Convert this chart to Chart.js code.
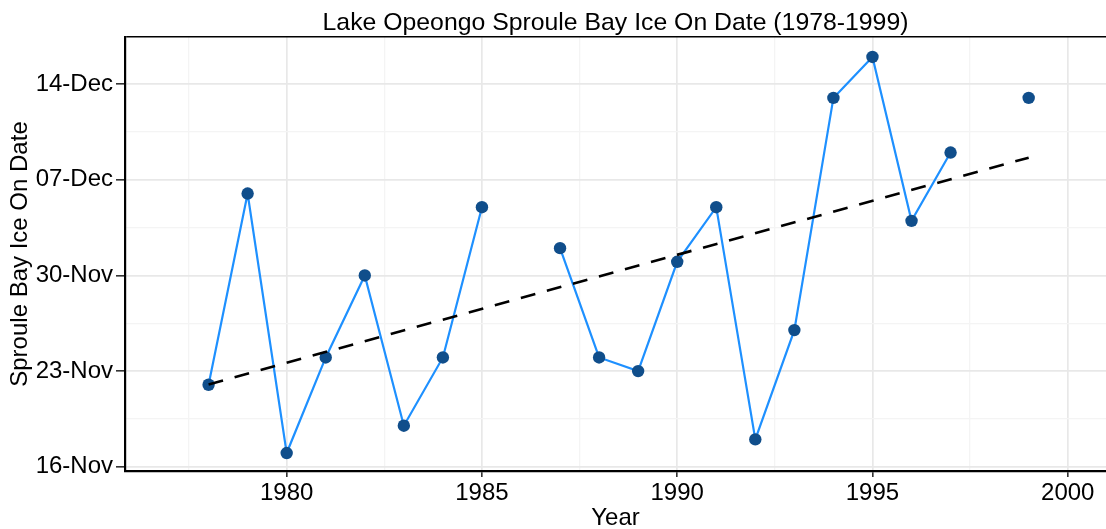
<!DOCTYPE html>
<html>
<head>
<meta charset="utf-8">
<script src="https://cdn.jsdelivr.net/npm/chart.js@4.4.1/dist/chart.umd.min.js"></script>
<style>
  html, body { margin: 0; padding: 0; background: #ffffff; overflow: hidden; }
  #wrap { width: 1106px; height: 529px; position: relative; }
  canvas { display: block; width: 1106px; height: 529px; }
</style>
</head>
<body>
<div id="wrap"><canvas id="chart" width="1106" height="529"></canvas></div>
<script>
// Ice-on date at Sproule Bay, Lake Opeongo, by winter (null = no record)
const years = [1978, 1979, 1980, 1981, 1982, 1983, 1984, 1985, 1986, 1987, 1988,
               1989, 1990, 1991, 1992, 1993, 1994, 1995, 1996, 1997, 1998, 1999];
const iceOnDates = ['22-Nov', '06-Dec', '17-Nov', '24-Nov', '30-Nov', '19-Nov', '24-Nov', '05-Dec', null, '02-Dec', '24-Nov',
                    '23-Nov', '01-Dec', '05-Dec', '18-Nov', '26-Nov', '13-Dec', '16-Dec', '04-Dec', '09-Dec', null, '13-Dec'];

// Axis ticks
const yTickLabels = ['16-Nov', '23-Nov', '30-Nov', '07-Dec', '14-Dec'];
const xTickLabels = [1980, 1985, 1990, 1995, 2000];

const chartTitle = 'Lake Opeongo Sproule Bay Ice On Date (1978-1999)';
const FONT = "'Liberation Sans', Arial, sans-serif";

// Dates are plotted as days after 16 November
function dayOffset(label) {
  const [d, m] = label.split('-');
  return (m === 'Dec' ? 30 : 0) + Number(d) - 16;
}

const points = years.map((yr, i) => ({ x: yr, y: iceOnDates[i] === null ? null : dayOffset(iceOnDates[i]) }));

// Least-squares trend through the recorded years
const valid = points.filter(p => p.y !== null);
const mx = valid.reduce((s, p) => s + p.x, 0) / valid.length;
const my = valid.reduce((s, p) => s + p.y, 0) / valid.length;
const slope = valid.reduce((s, p) => s + (p.x - mx) * (p.y - my), 0) /
              valid.reduce((s, p) => s + (p.x - mx) ** 2, 0);
const x0 = valid[0].x, x1 = valid[valid.length - 1].x;
const trend = [{ x: x0, y: my + slope * (x0 - mx) }, { x: x1, y: my + slope * (x1 - mx) }];

const yMajor = yTickLabels.map(dayOffset);
const yLabelMap = new Map(yMajor.map((v, i) => [v, yTickLabels[i]]));
const yMinor = yMajor.slice(0, -1).map(v => v + 3.5);
const Y_MIN = -0.315, Y_MAX = 31.46;

const xMinor = xTickLabels.map(v => v - 2.5);
const X_MIN = 1975.86, X_MAX = 2000.98;

Chart.defaults.font.family = FONT;

new Chart(document.getElementById('chart'), {
  type: 'line',
  data: {
    datasets: [
      {
        label: 'Trend',
        data: trend,
        borderColor: '#000000',
        borderWidth: 2.6,
        borderDash: [15, 12],
        pointRadius: 0,
        fill: false,
        order: 0
      },
      {
        label: 'Ice on',
        data: points,
        borderColor: '#1E90FF',
        borderWidth: 2.2,
        pointRadius: 6.2,
        pointBackgroundColor: '#104E8B',
        pointBorderWidth: 0,
        spanGaps: false,
        fill: false,
        tension: 0,
        order: 1
      }
    ]
  },
  options: {
    responsive: false,
    animation: false,
    events: [],
    layout: { padding: 0, autoPadding: false },
    plugins: {
      legend: { display: false },
      tooltip: { enabled: false },
      title: {
        display: true,
        text: chartTitle,
        fullSize: false,
        color: '#000000',
        font: { size: 24.8, weight: 'normal', lineHeight: 1 },
        padding: { top: 10.6, bottom: 1.6 }
      }
    },
    scales: {
      x: {
        type: 'linear',
        min: X_MIN,
        max: X_MAX,
        afterBuildTicks: s => {
          s.ticks = [...xMinor, ...xTickLabels].sort((a, b) => a - b).map(v => ({ value: v }));
        },
        afterFit: s => {
          s.height = 58;
          s.paddingLeft = 0;
          s.paddingRight = 0;
        },
        ticks: {
          autoSkip: false,
          maxRotation: 0,
          padding: 2,
          color: '#000000',
          font: { size: 24 },
          callback: v => (xTickLabels.includes(v) ? String(v) : '')
        },
        grid: {
          color: c => (xTickLabels.includes(c.tick.value) ? '#E8E8E8' : '#F4F4F4'),
          lineWidth: c => (xTickLabels.includes(c.tick.value) ? 1.7 : 1.3),
          tickLength: 6,
          tickColor: c => (xTickLabels.includes(c.tick.value) ? '#000000' : 'rgba(0,0,0,0)'),
          tickWidth: 1.3
        },
        border: { display: true, color: '#000000', width: 2.2 },
        title: {
          display: true,
          text: 'Year',
          color: '#000000',
          font: { size: 24, lineHeight: 0.88 },
          padding: { top: 0, bottom: 0 }
        }
      },
      y: {
        type: 'linear',
        min: Y_MIN,
        max: Y_MAX,
        afterBuildTicks: s => {
          s.ticks = [...yMajor, ...yMinor, Y_MAX].sort((a, b) => a - b).map(v => ({ value: v }));
        },
        afterFit: s => { s.width = 125; },
        ticks: {
          autoSkip: false,
          padding: 3,
          color: '#000000',
          font: { size: 24 },
          callback: v => (yLabelMap.has(v) ? yLabelMap.get(v) : '')
        },
        grid: {
          color: c => (c.tick.value === Y_MAX ? '#000000' : (yLabelMap.has(c.tick.value) ? '#E8E8E8' : '#F4F4F4')),
          lineWidth: c => (c.tick.value === Y_MAX ? 1.6 : (yLabelMap.has(c.tick.value) ? 1.7 : 1.3)),
          tickLength: 9,
          tickColor: c => (yLabelMap.has(c.tick.value) ? '#000000' : 'rgba(0,0,0,0)'),
          tickWidth: 1.3
        },
        border: { display: true, color: '#000000', width: 2.2 },
        title: {
          display: true,
          text: 'Sproule Bay Ice On Date',
          color: '#000000',
          font: { size: 24 },
          padding: { top: 5.6, bottom: 0 }
        }
      }
    }
  }
});
</script>
</body>
</html>
